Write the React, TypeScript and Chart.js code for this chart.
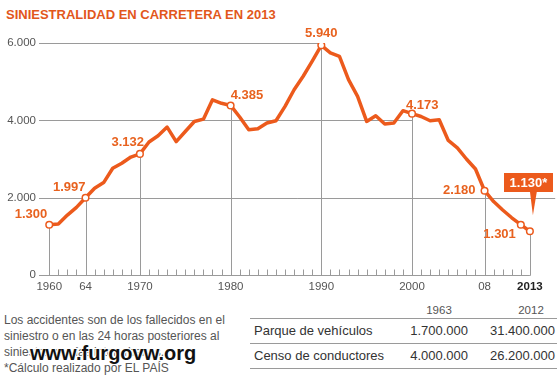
import React, { useEffect, useRef } from "react";
import { Chart, registerables } from "chart.js";

Chart.register(...registerables);

// ---------- DATA ----------
const TITLE = "SINIESTRALIDAD EN CARRETERA EN 2013";

const years = [
  1960, 1961, 1962, 1963, 1964, 1965, 1966, 1967, 1968, 1969,
  1970, 1971, 1972, 1973, 1974, 1975, 1976, 1977, 1978, 1979,
  1980, 1981, 1982, 1983, 1984, 1985, 1986, 1987, 1988, 1989,
  1990, 1991, 1992, 1993, 1994, 1995, 1996, 1997, 1998, 1999,
  2000, 2001, 2002, 2003, 2004, 2005, 2006, 2007, 2008, 2009,
  2010, 2011, 2012, 2013,
];

const deaths = [
  1300, 1320, 1550, 1750, 1997, 2245, 2390, 2760, 2890, 3050,
  3132, 3440, 3600, 3825, 3450, 3710, 3970, 4030, 4530, 4440,
  4385, 4085, 3755, 3780, 3930, 3990, 4360, 4790, 5140, 5530,
  5940, 5743, 5656, 5052, 4620, 3972, 4119, 3903, 3929, 4249,
  4173, 4100, 3990, 4015, 3480, 3290, 3000, 2741, 2180, 1900,
  1680, 1480, 1301, 1130,
];

const yTicks = [0, 2000, 4000, 6000];
const gridEndYear: (number | null)[] = [2013, null, 2000, 1990];

const xTickYears = [1960, 1964, 1970, 1980, 1990, 2000, 2008, 2013];
const xTickLabels = ["1960", "64", "1970", "1980", "1990", "2000", "08", "2013"];

const markedYears = [1960, 1964, 1970, 1980, 1990, 2000, 2008, 2012, 2013];
const dropLineYears = [1960, 1964, 1970, 1980, 1990, 2000, 2008, 2013];

const annotYears = [1960, 1964, 1970, 1980, 1990, 2000, 2008, 2012];
const annotLabels = ["1.300", "1.997", "3.132", "4.385", "5.940", "4.173", "2.180", "1.301"];

const calloutYear = 2013;
const calloutLabel = "1.130*";

const notes = [
  "Los accidentes son de los fallecidos en el",
  "siniestro o en las 24 horas posteriores al",
  "siniestro en vías interurbanas.",
  "*Cálculo realizado por EL PAÍS",
];

const tableHeader = ["1963", "2012"];
const tableRows = [
  ["Parque de vehículos", "1.700.000", "31.400.000"],
  ["Censo de conductores", "4.000.000", "26.200.000"],
];

const WATERMARK = "www.furgovw.org";

// ---------- STYLE ----------
const FONT = '"Liberation Sans", Arial, Helvetica, sans-serif';
const ORANGE = "#EC5A1C";
const TEXT_ORANGE = "#E8621F";
const GRID = "#9a9a9a";

// label placement for each annotation: [dx, dy, align, baseline]
const annotPlacement: [number, number, CanvasTextAlign, CanvasTextBaseline][] = [
  [-2, -7, "right", "alphabetic"],
  [0, -7, "right", "alphabetic"],
  [4, -8, "right", "alphabetic"],
  [0, -6, "left", "alphabetic"],
  [0, -8, "center", "alphabetic"],
  [-6, -5, "left", "alphabetic"],
  [-9, 0, "right", "middle"],
  [-5, 13, "right", "alphabetic"],
];

const fmt = (v: number) => String(v).replace(/\B(?=(\d{3})+(?!\d))/g, ".");

const decorPlugin = {
  id: "decor",
  beforeDatasetsDraw(chart: any) {
    const { ctx, chartArea } = chart;
    const x = chart.scales.x;
    const y = chart.scales.y;
    ctx.save();
    ctx.strokeStyle = GRID;
    ctx.lineWidth = 1;
    const line = (x1: number, y1: number, x2: number, y2: number) => {
      ctx.beginPath();
      ctx.moveTo(x1, y1);
      ctx.lineTo(x2, y2);
      ctx.stroke();
    };
    yTicks.forEach((v, i) => {
      const py = Math.round(y.getPixelForValue(v)) + 0.5;
      const end = gridEndYear[i];
      const ex = end == null ? chartArea.right : x.getPixelForValue(end);
      line(chartArea.left, py, ex, py);
    });
    const base = Math.round(y.getPixelForValue(0)) + 0.5;
    years.forEach((yr) => {
      const px = Math.round(x.getPixelForValue(yr)) + 0.5;
      line(px, base, px, base - 6);
    });
    dropLineYears.forEach((yr) => {
      const i = years.indexOf(yr);
      const px = Math.round(x.getPixelForValue(yr)) + 0.5;
      line(px, base, px, y.getPixelForValue(deaths[i]));
    });
    ctx.restore();
  },
  afterDatasetsDraw(chart: any) {
    const { ctx } = chart;
    const x = chart.scales.x;
    const y = chart.scales.y;
    ctx.save();
    ctx.font = `bold 13px ${FONT}`;
    ctx.fillStyle = TEXT_ORANGE;
    annotYears.forEach((yr, k) => {
      const i = years.indexOf(yr);
      const px = x.getPixelForValue(yr);
      const py = y.getPixelForValue(deaths[i]);
      const [dx, dy, align, bl] = annotPlacement[k];
      ctx.textAlign = align;
      ctx.textBaseline = bl;
      ctx.fillText(annotLabels[k], px + dx, py + dy);
    });
    // callout
    const ci = years.indexOf(calloutYear);
    const cx = x.getPixelForValue(calloutYear);
    const cy = y.getPixelForValue(deaths[ci]);
    ctx.fillStyle = ORANGE;
    ctx.fillRect(Math.round(cx - 26), Math.round(cy - 58), 49, 19);
    ctx.beginPath();
    ctx.moveTo(cx + 0, cy - 40);
    ctx.lineTo(cx + 7, cy - 40);
    ctx.lineTo(cx + 3, cy - 16);
    ctx.closePath();
    ctx.fill();
    ctx.fillStyle = "#ffffff";
    ctx.textAlign = "center";
    ctx.textBaseline = "alphabetic";
    ctx.fillText(calloutLabel, cx - 1.5, cy - 44);
    ctx.restore();
  },
};

function LineChart() {
  const ref = useRef<HTMLCanvasElement | null>(null);
  useEffect(() => {
    if (!ref.current) return;
    const chart = new Chart(ref.current, {
      type: "line",
      data: {
        datasets: [
          {
            data: years.map((yr, i) => ({ x: yr, y: deaths[i] })),
            borderColor: ORANGE,
            borderWidth: 3.5,
            borderJoinStyle: "round",
            borderCapStyle: "round",
            tension: 0,
            pointRadius: (c: any) => (markedYears.includes(years[c.dataIndex]) ? 3.3 : 0),
            pointBackgroundColor: "#ffffff",
            pointBorderColor: ORANGE,
            pointBorderWidth: 1.5,
            pointHoverRadius: 0,
          } as any,
        ],
      },
      options: {
        responsive: false,
        animation: false,
        events: [],
        layout: { padding: { top: 43, right: 4, left: 0, bottom: 0 } },
        plugins: { legend: { display: false }, tooltip: { enabled: false } },
        scales: {
          x: {
            type: "linear",
            min: 1958.87,
            max: 2015.79,
            grid: { display: false, drawTicks: false },
            border: { display: false },
            afterBuildTicks: (s: any) => {
              s.ticks = xTickYears.map((v) => ({ value: v }));
            },
            afterFit: (s: any) => {
              s.height = 25;
            },
            ticks: {
              autoSkip: false,
              maxRotation: 0,
              padding: 5,
              callback: (v: any) => xTickLabels[xTickYears.indexOf(Number(v))],
              color: (c: any) => (c.tick && c.tick.value === 2013 ? "#222" : "#555"),
              font: (c: any) => ({
                family: FONT,
                size: 11.5,
                weight: c.tick && c.tick.value === 2013 ? "bold" : "normal",
              }),
            },
          },
          y: {
            type: "linear",
            min: 0,
            max: 6000,
            grid: { display: false, drawTicks: false },
            border: { display: false },
            afterBuildTicks: (s: any) => {
              s.ticks = yTicks.map((v) => ({ value: v }));
            },
            afterFit: (s: any) => {
              s.width = 39;
            },
            ticks: {
              padding: 3,
              color: "#555",
              font: { family: FONT, size: 11.5 },
              callback: (v: any) => fmt(Number(v)),
            },
          },
        },
      } as any,
      plugins: [decorPlugin],
    });
    return () => chart.destroy();
  }, []);
  return (
    <canvas
      ref={ref}
      width={560}
      height={300}
      style={{ position: "absolute", left: 0, top: 0, width: 560, height: 300 }}
    />
  );
}

export default function App() {
  const abs = (o: React.CSSProperties): React.CSSProperties => ({ position: "absolute", whiteSpace: "nowrap", ...o });
  return (
    <div
      style={{
        position: "fixed",
        left: 0,
        top: 0,
        width: 560,
        height: 381,
        background: "#fff",
        fontFamily: FONT,
        overflow: "hidden",
      }}
    >
      <div style={abs({ left: 6, top: 7, fontSize: 13, lineHeight: "15px", fontWeight: "bold", color: "#E2571B" })}>
        {TITLE}
      </div>
      <LineChart />
      {/* notes */}
      <div style={abs({ left: 4, top: 312, fontSize: 12, lineHeight: "16px", color: "#555" })}>
        {notes.map((n, i) => (
          <div key={i}>{n}</div>
        ))}
      </div>
      <div
        style={abs({
          left: 30,
          top: 341,
          fontSize: 20,
          lineHeight: "24px",
          fontWeight: "bold",
          color: "#111",
          textShadow: "1px 1px 0 #fff, -1px -1px 0 #fff, 1px -1px 0 #fff, -1px 1px 0 #fff",
        })}
      >
        {WATERMARK}
      </div>
      {/* table */}
      <div style={abs({ left: 420, top: 303, width: 38, textAlign: "center", fontSize: 11.5, lineHeight: "14px", color: "#555" })}>
        {tableHeader[0]}
      </div>
      <div style={abs({ left: 512, top: 303, width: 38, textAlign: "center", fontSize: 11.5, lineHeight: "14px", color: "#555" })}>
        {tableHeader[1]}
      </div>
      {[318, 343, 368].map((t, i) => (
        <div key={i} style={abs({ left: 250, top: t, width: 307, height: 1, background: GRID })} />
      ))}
      {tableRows.map((r, i) => (
        <React.Fragment key={i}>
          <div style={abs({ left: 254, top: 323 + i * 25, fontSize: 13, lineHeight: "16px", color: "#333" })}>{r[0]}</div>
          <div style={abs({ left: 368, top: 323 + i * 25, width: 100, textAlign: "right", fontSize: 13, lineHeight: "16px", color: "#333" })}>
            {r[1]}
          </div>
          <div style={abs({ left: 455, top: 323 + i * 25, width: 100, textAlign: "right", fontSize: 13, lineHeight: "16px", color: "#333" })}>
            {r[2]}
          </div>
        </React.Fragment>
      ))}
    </div>
  );
}
